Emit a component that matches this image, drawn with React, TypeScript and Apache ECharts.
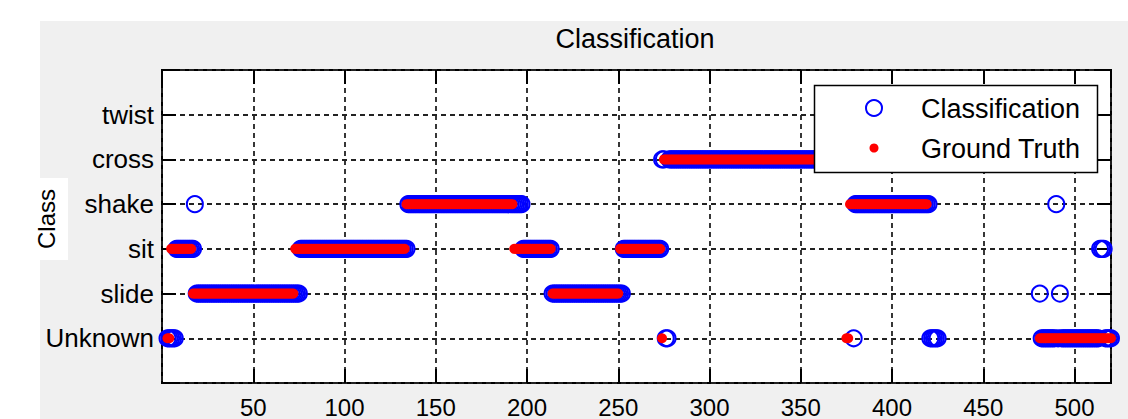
import React, { useEffect, useRef } from 'react';
import * as echarts from 'echarts';

// ---- data ----
const classNames = ['Unknown', 'slide', 'sit', 'shake', 'cross', 'twist'];
const xTickLabels = [50, 100, 150, 200, 250, 300, 350, 400, 450, 500];
const seriesNames = ['Classification', 'Ground Truth'];

// runs of constant class: [first sample, last sample, class]
const classificationSegments: [number, number, string][] = [
  [3, 7, 'Unknown'],
  [8, 17, 'sit'],
  [18, 18, 'shake'],
  [19, 75, 'slide'],
  [76, 134, 'sit'],
  [135, 197, 'shake'],
  [198, 213, 'sit'],
  [214, 252, 'slide'],
  [253, 273, 'sit'],
  [274, 275, 'cross'],
  [276, 277, 'Unknown'],
  [278, 378, 'cross'],
  [379, 379, 'Unknown'],
  [380, 420, 'shake'],
  [421, 425, 'Unknown'],
  [426, 480, 'twist'],
  [481, 481, 'slide'],
  [482, 489, 'Unknown'],
  [490, 490, 'shake'],
  [491, 491, 'Unknown'],
  [492, 492, 'slide'],
  [493, 513, 'Unknown'],
  [514, 516, 'sit'],
  [517, 520, 'Unknown'],
];

const groundTruthSegments: [number, number, string][] = [
  [3, 4, 'Unknown'],
  [5, 16, 'sit'],
  [17, 72, 'slide'],
  [73, 133, 'sit'],
  [134, 192, 'shake'],
  [193, 213, 'sit'],
  [214, 250, 'slide'],
  [251, 273, 'sit'],
  [274, 274, 'Unknown'],
  [275, 374, 'cross'],
  [375, 376, 'Unknown'],
  [377, 419, 'shake'],
  [420, 480, 'twist'],
  [481, 520, 'Unknown'],
];

const xMin = 0;
const xMax = 520;
const xInterval = 50;

function expandSegments(segs: [number, number, string][]) {
  const pts: number[][] = [];
  for (const [a, b, name] of segs) {
    const y = classNames.indexOf(name);
    for (let x = a; x <= b; x++) pts.push([x, y]);
  }
  return pts;
}

const FONT = '"Liberation Sans", Arial, Helvetica, sans-serif';

export default function App() {
  const ref = useRef<HTMLDivElement>(null);

  useEffect(() => {
    if (!ref.current) return;
    const chart = echarts.init(ref.current, undefined, { renderer: 'svg' });

    const tickStyle = () => ({ show: true, inside: true, length: 14, lineStyle: { color: '#000', width: 2 } });
    const noLine = () => ({ show: false, onZero: false });
    const gridLine = () => ({ show: true, lineStyle: { color: '#222', width: 1.8, type: [5, 4] as any } });

    const option: any = {
      animation: false,
      backgroundColor: '#f0f0f0',
      title: {
        text: 'Classification',
        left: 635,
        top: 25,
        textAlign: 'center',
        padding: 0,
        textStyle: { fontFamily: FONT, fontSize: 27, fontWeight: 'normal', color: '#000' },
      },
      grid: {
        left: 162,
        top: 70,
        width: 949,
        height: 315,
        show: true,
        backgroundColor: '#ffffff',
        borderColor: '#000',
        borderWidth: 2,
        containLabel: false,
      },
      xAxis: [
        {
          type: 'value',
          min: xMin,
          max: xMax,
          interval: xInterval,
          position: 'bottom',
          axisLine: noLine(),
          axisTick: tickStyle(),
          axisLabel: {
            show: true,
            margin: 12,
            fontFamily: FONT,
            fontSize: 24,
            color: '#000',
            showMinLabel: false,
            formatter: (v: number) => (xTickLabels.includes(v) ? String(v) : ''),
          },
          splitLine: gridLine(),
        },
        {
          type: 'value',
          min: xMin,
          max: xMax,
          interval: xInterval,
          position: 'top',
          axisLine: noLine(),
          axisTick: tickStyle(),
          axisLabel: { show: false },
          splitLine: { show: false },
        },
      ],
      yAxis: [
        {
          type: 'value',
          min: -1,
          max: 6,
          interval: 1,
          position: 'left',
          axisLine: noLine(),
          axisTick: tickStyle(),
          axisLabel: {
            show: true,
            margin: 8,
            fontFamily: FONT,
            fontSize: 26,
            color: '#000',
            formatter: (v: number) =>
              Number.isInteger(v) && v >= 0 && v < classNames.length ? classNames[v] : '',
          },
          splitLine: gridLine(),
        },
        {
          type: 'value',
          min: -1,
          max: 6,
          interval: 1,
          position: 'right',
          axisLine: noLine(),
          axisTick: tickStyle(),
          axisLabel: { show: false },
          splitLine: { show: false },
        },
      ],
      series: [
        {
          type: 'scatter',
          name: seriesNames[0],
          xAxisIndex: 0,
          yAxisIndex: 0,
          data: expandSegments(classificationSegments),
          symbol: 'circle',
          symbolSize: 16,
          clip: false,
          silent: true,
          z: 3,
          itemStyle: { color: 'rgba(0,0,0,0)', borderColor: '#0000ff', borderWidth: 2, opacity: 1 },
          emphasis: { disabled: true },
        },
        {
          type: 'scatter',
          name: seriesNames[1],
          xAxisIndex: 0,
          yAxisIndex: 0,
          data: expandSegments(groundTruthSegments),
          symbol: 'circle',
          symbolSize: 10,
          clip: false,
          silent: true,
          z: 4,
          itemStyle: { color: '#ff0000', opacity: 1 },
          emphasis: { disabled: true },
        },
      ],
      graphic: [
        { type: 'rect', silent: true, z: 1, shape: { x: 0, y: 0, width: 1128, height: 21 }, style: { fill: '#ffffff' } },
        { type: 'rect', silent: true, z: 1, shape: { x: 0, y: 0, width: 40, height: 419 }, style: { fill: '#ffffff' } },
        { type: 'rect', silent: true, z: 1, shape: { x: 40, y: 178, width: 28, height: 82 }, style: { fill: '#ffffff' } },
        {
          type: 'text',
          silent: true,
          z: 2,
          x: 46,
          y: 219,
          rotation: Math.PI / 2,
          style: { text: 'Class', font: `24px ${FONT}`, fill: '#000', align: 'center', verticalAlign: 'middle' },
        },
        // legend box
        {
          type: 'rect',
          silent: true,
          z: 100,
          shape: { x: 814.5, y: 85.5, width: 283, height: 87 },
          style: { fill: '#ffffff', stroke: '#000', lineWidth: 1.5 },
        },
        {
          type: 'circle',
          silent: true,
          z: 101,
          shape: { cx: 874, cy: 108, r: 8 },
          style: { fill: 'none', stroke: '#0000ff', lineWidth: 2 },
        },
        {
          type: 'circle',
          silent: true,
          z: 101,
          shape: { cx: 874, cy: 148, r: 4.5 },
          style: { fill: '#ff0000' },
        },
        {
          type: 'text',
          silent: true,
          z: 101,
          x: 921,
          y: 109,
          style: { text: seriesNames[0], font: `27px ${FONT}`, fill: '#000', align: 'left', verticalAlign: 'middle' },
        },
        {
          type: 'text',
          silent: true,
          z: 101,
          x: 921,
          y: 149,
          style: { text: seriesNames[1], font: `27px ${FONT}`, fill: '#000', align: 'left', verticalAlign: 'middle' },
        },
      ],
    };

    chart.setOption(option);
    return () => chart.dispose();
  }, []);

  return (
    <div
      ref={ref}
      style={{ position: 'fixed', left: 0, top: 0, width: 1128, height: 419 }}
    />
  );
}
